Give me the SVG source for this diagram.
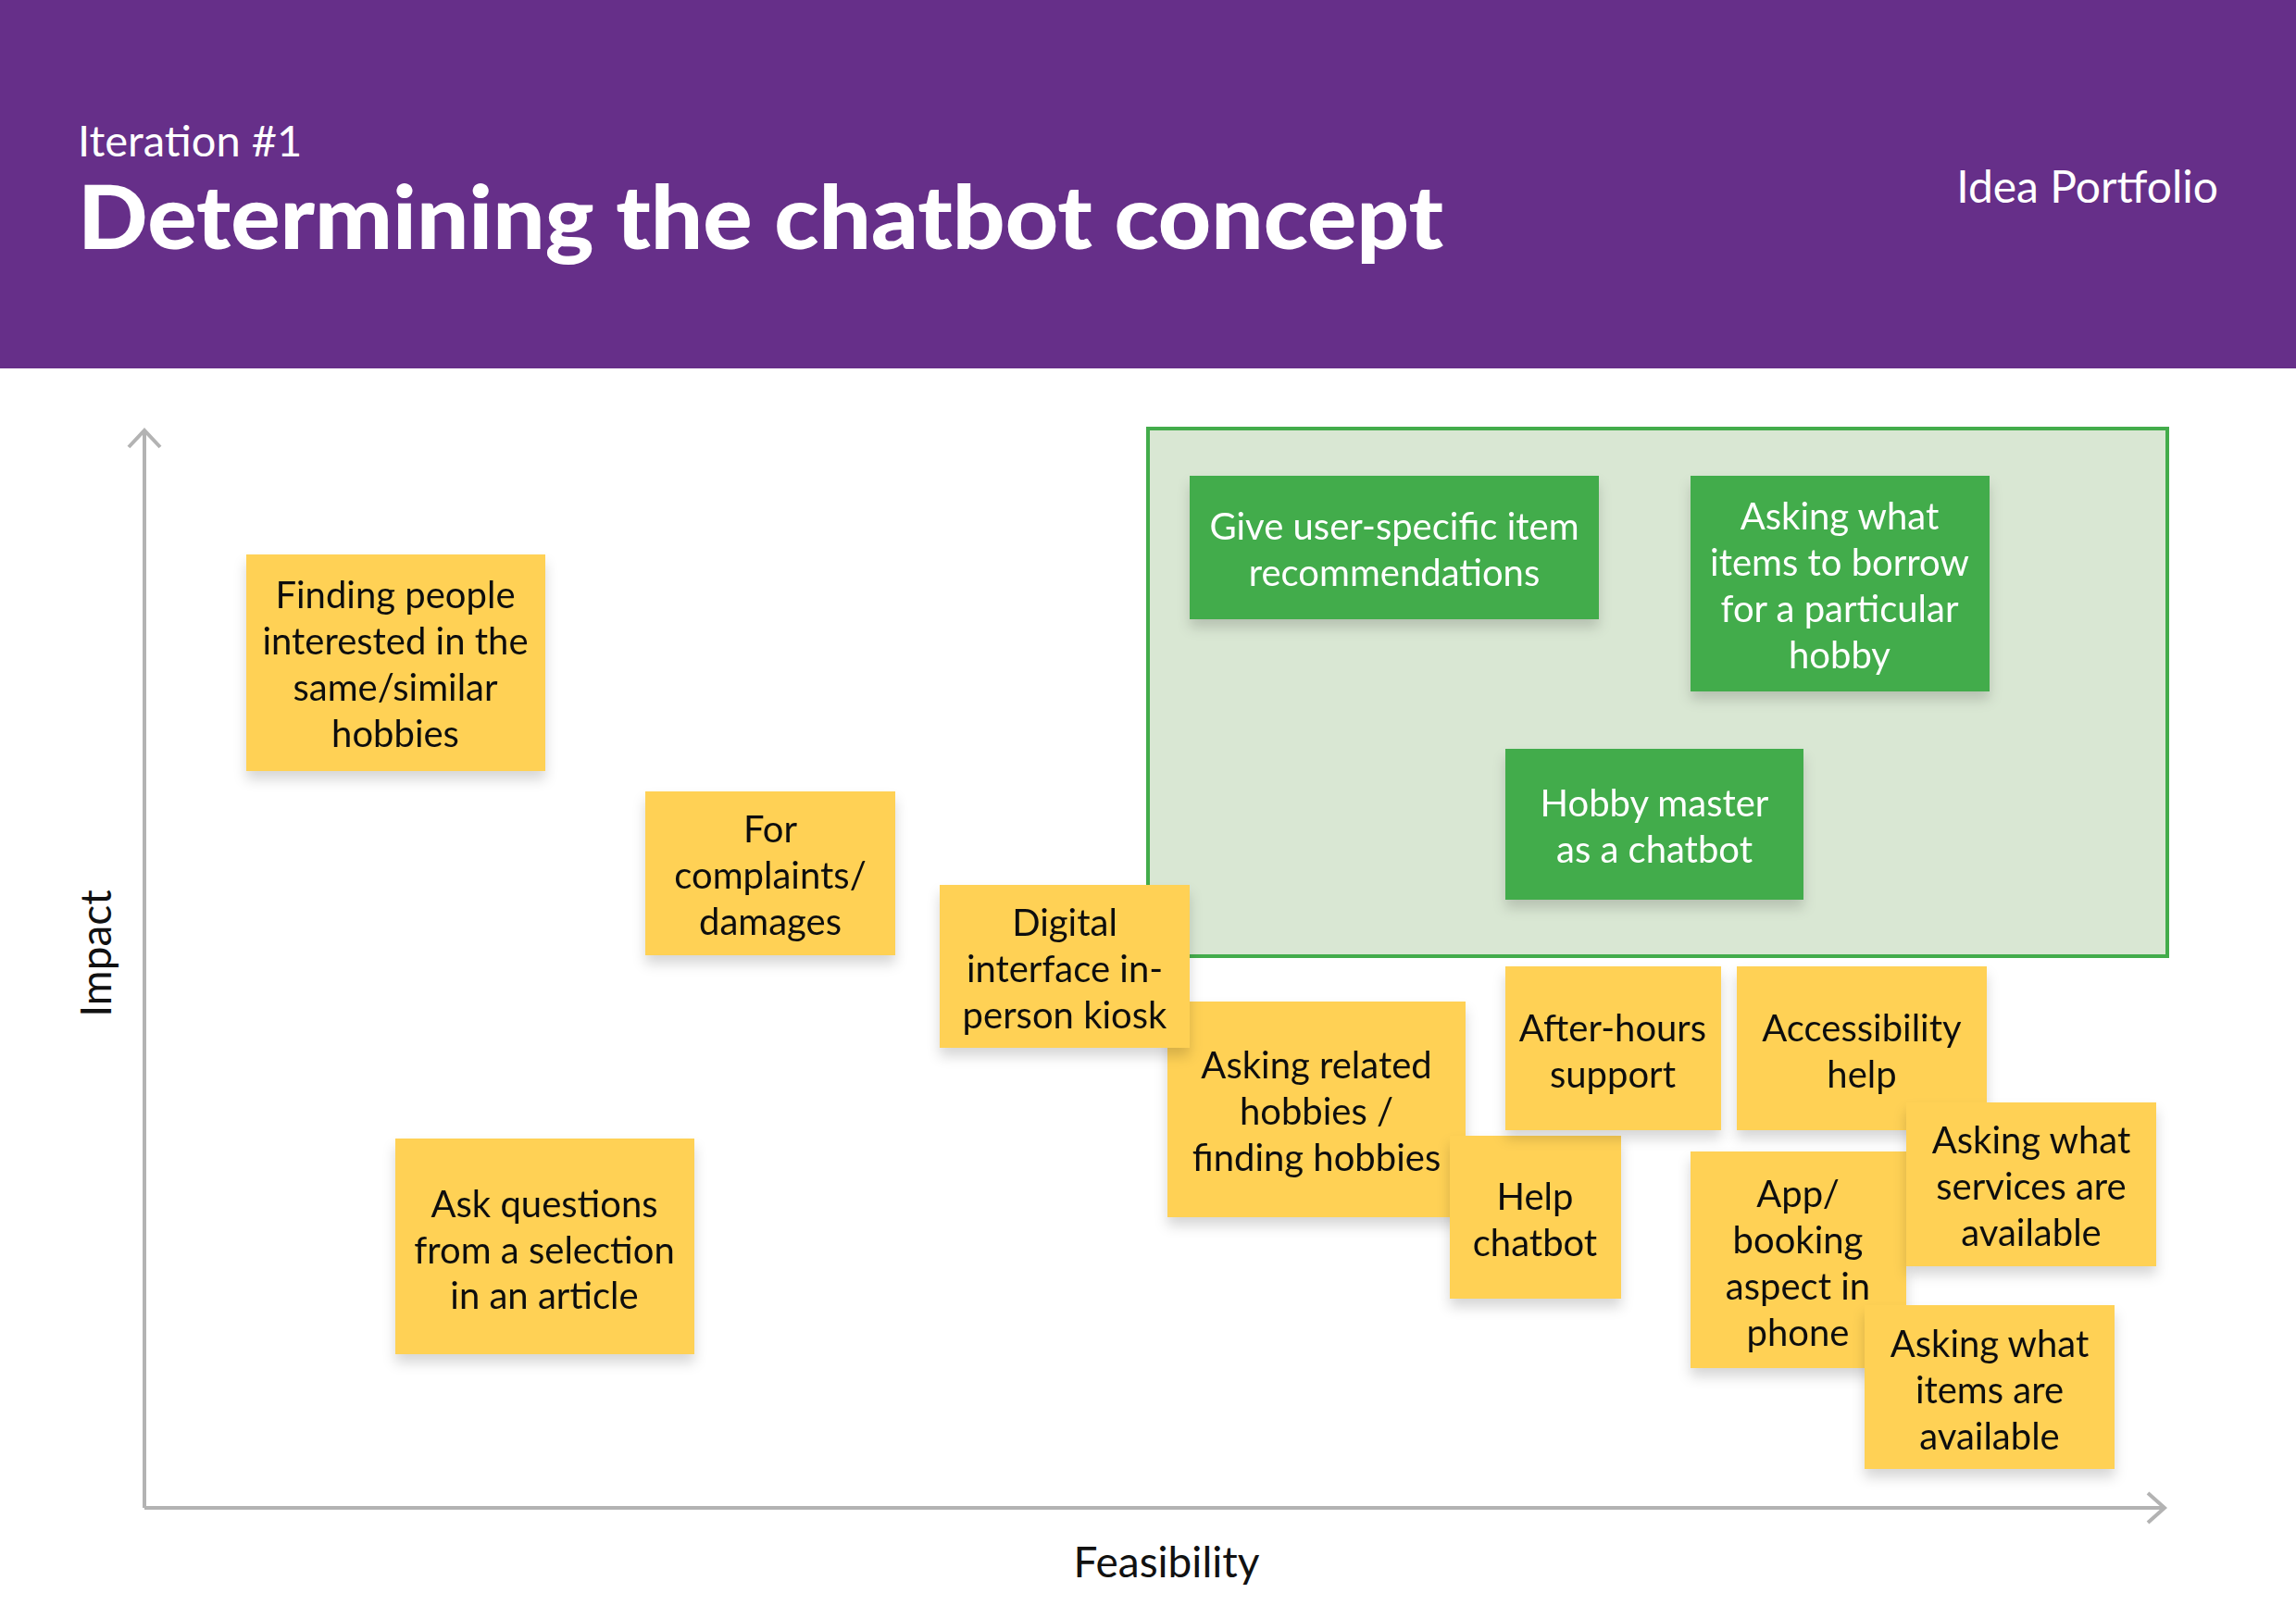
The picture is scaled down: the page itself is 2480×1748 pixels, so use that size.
<svg xmlns="http://www.w3.org/2000/svg" width="2480" height="1748" viewBox="0 0 2480 1748">
<style>
.hdr{font-family:Lato,"Liberation Sans",sans-serif;fill:#ffffff}
.lbl{font-family:Lato,"Liberation Sans",sans-serif;font-size:46px;fill:#111111;text-anchor:middle}
.y rect{fill:#ffd155}
.g rect{fill:#43ac4b}
.y text{font-family:Lato,"Liberation Sans",sans-serif;font-size:40px;fill:#111111;text-anchor:middle}
.g text{font-family:Lato,"Liberation Sans",sans-serif;font-size:40px;fill:#ffffff;text-anchor:middle}
.axis{stroke:#b3b3b3;stroke-width:4;fill:none}
</style>
<defs>
<filter id="sh" x="-20%" y="-20%" width="140%" height="150%">
<feDropShadow dx="0" dy="9" stdDeviation="7" flood-color="#000000" flood-opacity="0.16"/>
</filter>
</defs>
<rect x="0" y="0" width="2480" height="1748" fill="#ffffff"/>
<rect x="0" y="0" width="2480" height="398" fill="#662f89"/>
<text class="hdr" x="84" y="169" font-size="47">Iteration #1</text>
<text class="hdr" x="84" y="269" font-size="96" font-weight="900" textLength="1475" lengthAdjust="spacingAndGlyphs">Determining the chatbot concept</text>
<text class="hdr" x="2396" y="219" font-size="48" text-anchor="end">Idea Portfolio</text>

<g id="axes">
<path class="axis" d="M156 1629 H2337"/>
<path class="axis" d="M156 1629 V465"/>
<path class="axis" d="M139 483 L156 465 L173 483"/>
<path class="axis" d="M2320 1613 L2338 1629 L2320 1645"/>
</g>
<text class="lbl" x="1260" y="1704">Feasibility</text>
<text class="lbl" transform="translate(120 1030) rotate(-90)">Impact</text>

<g id="zone">
<rect x="1240" y="463" width="1101" height="570" fill="#d9e7d3" stroke="#43ac4b" stroke-width="4"/>
</g>

<g id="n-give" class="g" filter="url(#sh)">
<rect x="1285" y="514" width="442" height="155"/>
<text x="1506" y="583">Give user-specific item</text>
<text x="1506" y="633">recommendations</text>
</g>
<g id="n-borrow" class="g" filter="url(#sh)">
<rect x="1826" y="514" width="323" height="233"/>
<text x="1987" y="572">Asking what</text>
<text x="1987" y="622">items to borrow</text>
<text x="1987" y="672">for a particular</text>
<text x="1987" y="722">hobby</text>
</g>
<g id="n-master" class="g" filter="url(#sh)">
<rect x="1626" y="809" width="322" height="163"/>
<text x="1787" y="882">Hobby master</text>
<text x="1787" y="932">as a chatbot</text>
</g>

<g id="n-finding" class="y" filter="url(#sh)">
<rect x="266" y="599" width="323" height="234"/>
<text x="427" y="657">Finding people</text>
<text x="427" y="707">interested in the</text>
<text x="427" y="757">same/similar</text>
<text x="427" y="807">hobbies</text>
</g>
<g id="n-complaints" class="y" filter="url(#sh)">
<rect x="697" y="855" width="270" height="177"/>
<text x="832" y="910">For</text>
<text x="832" y="960">complaints/</text>
<text x="832" y="1010">damages</text>
</g>
<g id="n-ask" class="y" filter="url(#sh)">
<rect x="427" y="1230" width="323" height="233"/>
<text x="588" y="1315">Ask questions</text>
<text x="588" y="1365">from a selection</text>
<text x="588" y="1414">in an article</text>
</g>
<g id="n-related" class="y" filter="url(#sh)">
<rect x="1261" y="1082" width="322" height="233"/>
<text x="1422" y="1165">Asking related</text>
<text x="1422" y="1215">hobbies /</text>
<text x="1422" y="1265">finding hobbies</text>
</g>
<g id="n-kiosk" class="y" filter="url(#sh)">
<rect x="1015" y="956" width="270" height="176"/>
<text x="1150" y="1011">Digital</text>
<text x="1150" y="1061">interface in-</text>
<text x="1150" y="1111">person kiosk</text>
</g>
<g id="n-help" class="y" filter="url(#sh)">
<rect x="1566" y="1227" width="185" height="176"/>
<text x="1658" y="1307">Help</text>
<text x="1658" y="1357">chatbot</text>
</g>
<g id="n-afterhours" class="y" filter="url(#sh)">
<rect x="1626" y="1044" width="233" height="177"/>
<text x="1742" y="1125">After-hours</text>
<text x="1742" y="1175">support</text>
</g>
<g id="n-access" class="y" filter="url(#sh)">
<rect x="1876" y="1044" width="270" height="177"/>
<text x="2011" y="1125">Accessibility</text>
<text x="2011" y="1175">help</text>
</g>
<g id="n-app" class="y" filter="url(#sh)">
<rect x="1826" y="1244" width="233" height="234"/>
<text x="1942" y="1304">App/</text>
<text x="1942" y="1354">booking</text>
<text x="1942" y="1404">aspect in</text>
<text x="1942" y="1454">phone</text>
</g>
<g id="n-services" class="y" filter="url(#sh)">
<rect x="2059" y="1191" width="270" height="177"/>
<text x="2194" y="1246">Asking what</text>
<text x="2194" y="1296">services are</text>
<text x="2194" y="1346">available</text>
</g>
<g id="n-items" class="y" filter="url(#sh)">
<rect x="2014" y="1410" width="270" height="177"/>
<text x="2149" y="1466">Asking what</text>
<text x="2149" y="1516">items are</text>
<text x="2149" y="1566">available</text>
</g>
</svg>
